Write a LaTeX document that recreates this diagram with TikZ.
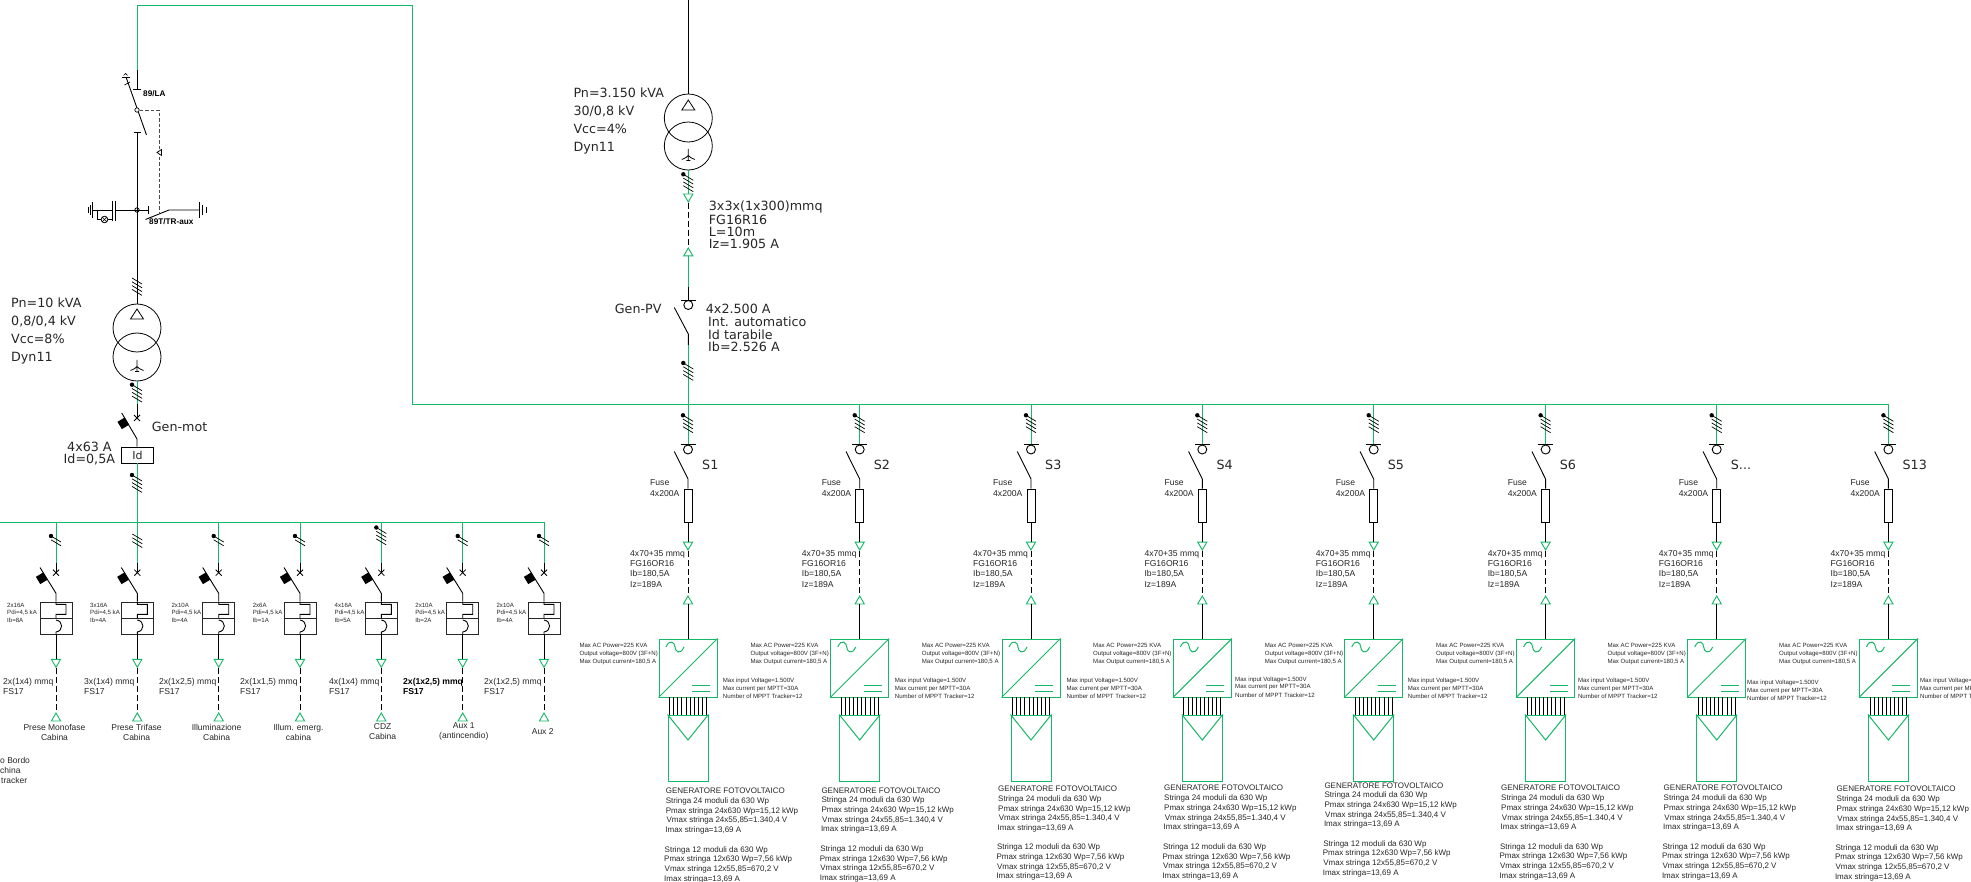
\documentclass[tikz,border=0pt]{standalone}
\usepackage{fontspec}
\usetikzlibrary{shapes.geometric}
\newfontfamily\arf{Liberation Sans}
\newfontfamily\dvf{DejaVu Sans}
\definecolor{grn}{HTML}{14B866}
\definecolor{txt}{HTML}{262626}
\newcommand\Sdots{S...}
\tikzset{
  gr/.style={draw=grn,line width=1pt},
  bk/.style={draw=black,line width=0.9pt},
  dashline/.style={draw=black,line width=0.9pt,dash pattern=on 6pt off 3pt},
  hatchline/.style={draw=black,line width=0.7pt},
  triup/.style={regular polygon,regular polygon sides=3,draw=grn,fill=white,line width=0.9pt,inner sep=0pt,minimum size=10.6pt},
  tridn/.style={triup,shape border rotate=180},
  lbase/.style={inner sep=0pt,text=txt,anchor=mid west},
  gen/.style={lbase,font=\arf\fontsize{8}{10}\selectfont},
  fz/.style={lbase,font=\arf\fontsize{8.6}{10}\selectfont},
  tiny/.style={lbase,font=\arf\fontsize{6.1}{8}\selectfont},
  cabn/.style={fz},
  cabb/.style={fz,font=\arf\bfseries\fontsize{8.6}{10}\selectfont,text=black},
  bot/.style={inner sep=0pt,text=txt,align=center,font=\arf\fontsize{8.5}{10}\selectfont},
  big/.style={lbase,font=\dvf\fontsize{12.7}{14}\selectfont},
  tag/.style={lbase,text=black,font=\arf\bfseries\fontsize{8.2}{10}\selectfont},
  trafo/.style={circle,draw=black,line width=0.8pt,minimum size=48pt,inner sep=0pt},
  switchring/.style={circle,draw=black,line width=0.9pt,minimum size=9pt,inner sep=0pt},
  fusebox/.style={rectangle,draw=black,line width=0.9pt,fill=white,minimum width=8pt,minimum height=33pt,inner sep=0pt},
  invbox/.style={rectangle,draw=grn,line width=1pt,minimum size=58pt,inner sep=0pt},
  pvbox/.style={rectangle,draw=grn,line width=1pt,minimum width=40pt,minimum height=66pt,inner sep=0pt},
  auxbox/.style={rectangle,draw=black!85,line width=0.8pt,minimum width=32pt,minimum height=32pt,inner sep=0pt},
  blk/.style={rectangle,fill=black,minimum size=8.5pt,inner sep=0pt,rotate=31},
}
% slash marks on a conductor: x, y of the first left end, number, dot flag
\newcommand\Hatch[4]{%
  \foreach \k in {1,...,#3}
    \draw[hatchline] ({#1-5},{#2+(\k-1)*3.8}) -- ({#1+5},{#2+(\k-1)*3.8+6});
  \ifnum#4=1 \fill[black] ({#1-5},#2) circle (2.2pt);\fi
}
\newcommand\Xmark[2]{%
  \draw[line width=0.8pt] ({#1-3},{#2-3}) -- ({#1+3},{#2+3}) ({#1-3},{#2+3}) -- ({#1+3},{#2-3});
}
\newcommand\TriDelta[2]{\draw[line width=0.8pt] (#1,{#2-5}) -- ({#1+6.5},{#2+5}) -- ({#1-6.5},{#2+5}) -- cycle;}
\newcommand\TriStar[2]{%
  \draw[line width=0.8pt] (#1,{#2-8}) -- (#1,{#2+3}) ({#1-6.5},{#2+2.5}) .. controls ({#1-3},{#2+1}) and ({#1-1},{#2}) .. (#1,{#2-1.5})
   .. controls ({#1+1},{#2}) and ({#1+3},{#2+1}) .. ({#1+6.5},{#2+2.5}) ({#1-2},{#2+3.5}) -- ({#1+2},{#2+3.5});
}
\begin{document}
\begin{tikzpicture}[x=1pt,y=-1pt]
\path[use as bounding box] (0,0) rectangle (1971,882);
\clip (0,0) rectangle (1971,882);

% ---------- main green run
\coordinate (la-top) at (137,70);
\coordinate (bus-end) at (1888.4,404.5);
\draw[gr,line join=miter] (la-top) -- (137,5.5) -- (412,5.5) -- (412,404.5) -- (bus-end);
\coordinate (aux-l) at (0,522.3);
\coordinate (aux-r) at (544,522.3);
\draw[gr] (aux-l) -- (aux-r);

% ---------- disconnector 89/LA
\coordinate (la-bar) at (137,89);
\coordinate (la-low) at (137,132);
\coordinate (la-piv) at (137,110);
\coordinate (la-tip1) at (126,77);
\coordinate (la-tip2) at (146.5,135);
\draw[bk] (la-top) -- (la-bar);
\draw[bk] (133,89) -- (141,89);
\draw[bk] (134,132) -- (141,132);
\draw[bk] (la-tip1) -- (la-tip2);
\draw[bk] (122,77.3) -- (130,77.3);
\draw[line width=0.7pt] (123.5,75.5) -- (125.5,73.5) -- (127.5,75.5);
\draw[line width=0.7pt] (124.5,85) -- (130,82);
\node[circle,draw=black,fill=white,line width=0.7pt,minimum size=4.4pt,inner sep=0pt] (la-ring) at (la-piv) {};
\coordinate (mech-a) at (159,110);
\coordinate (mech-b) at (159,213);
\draw[draw=black!70,line width=0.9pt,dash pattern=on 3.5pt off 2pt] (la-ring) -- (mech-a) -- (mech-b);
\draw[line width=0.7pt,fill=white] (157,152.5) -- (161.5,149.5) -- (161.5,155.5) -- cycle;
\node[tag] (t-la) at (143,94) {89/LA};
\node[tag] (t-tr) at (149,222.5) {89T/TR-aux};

% ---------- vertical down to transformer 1
\node[trafo] (t1a) at (137,328) {};
\node[trafo] (t1b) at (137,357) {};
\draw[bk] (la-low) -- (t1a.north);
\Hatch{137}{278}{4}{0}
\TriDelta{137}{314}
\TriStar{137}{368}

% ---------- earthing part
\coordinate (e-node) at (137,210);
\draw[line width=0.8pt] (e-node) circle (2.2pt);
\draw[bk] (e-node) -- (148.3,210);
\draw[bk] (148.3,206) -- (148.3,214);
\draw[bk] (e-node) -- (115.5,210);
\draw[bk] (115.5,201) -- (115.5,221) (112,201) -- (112,221);
\draw[bk] (112,210) -- (92.3,210);
\draw[bk] (92.3,202) -- (92.3,218) (90,205) -- (90,215) (88,207) -- (88,213);
\draw[bk] (97,210) -- (97,219.5) -- (101,219.5);
\draw[bk] (108,219.5) -- (112,219.5);
\draw[line width=0.8pt] (104.5,219.5) circle (3.3pt);
\draw[line width=0.7pt] (102.2,217.2) -- (106.8,221.8) (102.2,221.8) -- (106.8,217.2);
\coordinate (sw-a) at (145.5,219.5);
\coordinate (sw-b) at (169,210);
\coordinate (sw-c) at (199.3,210);
\draw[bk] (sw-a) -- (sw-b) -- (sw-c);
\draw[bk] (199.3,202) -- (199.3,218) (202.5,205) -- (202.5,215) (206,207) -- (206,213);

% ---------- Gen-mot
\coordinate (gm-b) at (137,404.3);
\coordinate (gm-c) at (137,418);
\draw[gr] (t1b.south) -- (gm-b);
\draw[bk] (gm-b) -- (gm-c);
\Xmark{137}{418}
\Hatch{137}{384.7}{4}{1}
\coordinate (gm-d) at (137,439);
\node[rectangle,draw=black,fill=white,line width=0.9pt,minimum width=32pt,minimum height=16pt,inner sep=0pt,font=\dvf\fontsize{11}{12}\selectfont,text=txt] (idbox) at (137.5,455) {Id};
\draw[bk] (idbox.north -| gm-d) -- (gm-d) -- (121.7,413);
\node[blk] (gm-blk) at (123.3,423.3) {};
\coordinate (gm-e) at (137,522.3);
\draw[gr] (idbox.south -| gm-e) -- (gm-e);
\Hatch{137}{475}{4}{1}
\node[big] (t1l1) at (11,305.7) {Pn=10 kVA};
\node[big] (t1l2) at (11,323.7) {0,8/0,4 kV};
\node[big] (t1l3) at (11,341.7) {Vcc=8\%};
\node[big] (t1l4) at (11,359.7) {Dyn11};
\node[big] (gmt) at (151.7,429.3) {Gen-mot};
\node[big] (gmi) at (67,449.5) {4x63 A};
\node[big] (gmj) at (63.5,461.5) {Id=0,5A};

% ---------- auxiliary columns
\foreach \i/\x/\hn/\hd/\hy/\tx/\ta/\ib/\cx/\cab/\fs/\st/\bx/\by/\bl in {
 1/56/2/1/536/7/2x16A/Ib=8A/3/{2x(1x4) mmq}/FS17/cabn/54.5/732/{Prese Monofase\\Cabina},
 2/137.3/3/0/534/90/3x16A/Ib=4A/84/{3x(1x4) mmq}/FS17/cabn/136.6/732/{Prese Trifase\\Cabina},
 3/218.7/2/1/536/171.4/2x10A/Ib=4A/158.8/{2x(1x2,5) mmq}/FS17/cabn/216.6/732/{Illuminazione\\Cabina},
 4/300/2/1/536/252.6/2x6A/Ib=1A/240/{2x(1x1,5) mmq}/FS17/cabn/298.5/732/{Illum. emerg.\\cabina},
 5/381.3/4/1/527.5/334.5/4x16A/Ib=5A/329/{4x(1x4) mmq}/FS17/cabn/382.7/732/{CDZ\\Cabina},
 6/462.7/2/1/536/415.2/2x10A/Ib=2A/403/{2x(1x2,5) mmq}/FS17/cabb/463.8/731/{Aux 1\\(antincendio)},
 7/544/2/1/536/496.4/2x10A/Ib=4A/484/{2x(1x2,5) mmq}/FS17/cabn/542.7/732/{Aux 2}}
{
  \coordinate (a\i-bus) at (\x,522.3);
  \coordinate (a\i-g) at (\x,562.7);
  \coordinate (a\i-k) at (\x,572.7);
  \coordinate (a\i-p) at (\x,593.3);
  \node[auxbox] (a\i-box) at (\x,618) {};
  \draw[gr] (a\i-bus) -- (a\i-g);
  \draw[bk] (a\i-g) -- (a\i-k);
  \Xmark{\x}{572.7}
  \Hatch{\x}{\hy}{\hn}{\hd}
  \draw[bk] (a\i-box.north -| a\i-p) -- (a\i-p) -- ({\x-16},567.5);
  \node[blk] (a\i-blk) at ({\x-14.3},578.3) {};
  \draw[draw=black!85,line width=0.8pt] (a\i-box.west) -- (a\i-box.east);
  \draw[line width=0.9pt] (\x,602) -- (\x,604.3) -- ({\x+10},604.3) -- ({\x+10},614.3) -- (\x,614.3) -- (\x,618)
     (\x,620) .. controls ({\x+7.5},621) and ({\x+7.5},631) .. (\x,632) -- (\x,634);
  \node[tridn] (a\i-td) at (\x,662) {};
  \node[triup] (a\i-tu) at (\x,718.3) {};
  \draw[bk] (a\i-box.south) -- (a\i-td.north);
  \draw[dashline] (a\i-td.south) -- (a\i-tu.north);
  \node[tiny] (a\i-t1) at (\tx,605) {\ta};
  \node[tiny] (a\i-t2) at (\tx,612.7) {Pdi=4,5 kA};
  \node[tiny] (a\i-t3) at (\tx,620) {\ib};
  \node[\st] (a\i-c1) at (\cx,682.3) {\cab};
  \node[\st] (a\i-c2) at (\cx,692) {\fs};
  \node[bot] (a\i-b) at (\bx,\by) {\bl};
}
\node[gen,font=\arf\fontsize{8.5}{10}\selectfont] (cut1) at (0,761) {o Bordo};
\node[gen,font=\arf\fontsize{8.5}{10}\selectfont] (cut2) at (0,771) {china};
\node[gen,font=\arf\fontsize{8.5}{10}\selectfont] (cut3) at (1,781) {tracker};

% ---------- main transformer and Gen-PV
\coordinate (mv-top) at (688.3,0);
\node[trafo] (t2a) at (688.3,118) {};
\node[trafo] (t2b) at (688.3,146) {};
\draw[bk] (mv-top) -- (t2a.north);
\TriDelta{688.3}{105}
\TriStar{688.3}{157}
\node[tridn] (t2d) at (688.3,196.7) {};
\node[triup] (t2u) at (688.3,253.3) {};
\draw[gr] (t2b.south) -- (t2d.north);
\Hatch{688.3}{174.3}{4}{1}
\draw[dashline] (t2d.south) -- (t2u.north);
\coordinate (gp-g) at (688.3,287);
\coordinate (gp-b) at (688.3,300);
\coordinate (gp-s) at (688.3,334);
\coordinate (gp-l) at (688.3,345);
\draw[gr] (t2u.south) -- (gp-g);
\draw[bk] (gp-g) -- (gp-b);
\draw[bk] (681,300) -- (696,300);
\node[switchring] (gp-r) at (688.3,305) {};
\draw[bk] (674.3,307.5) -- (gp-s) -- (gp-l);
\coordinate (gp-bus) at (688.3,404.5);
\draw[gr] (gp-l) -- (gp-bus);
\Hatch{688.3}{363}{4}{1}
\node[big] (t2l1) at (573.3,95.7) {Pn=3.150 kVA};
\node[big] (t2l2) at (573.3,113.7) {30/0,8 kV};
\node[big] (t2l3) at (573.3,131.7) {Vcc=4\%};
\node[big] (t2l4) at (573.3,149.7) {Dyn11};
\node[big] (c1) at (708.7,208.7) {3x3x(1x300)mmq};
\node[big] (c2) at (708.7,222.7) {FG16R16};
\node[big] (c3) at (708.7,234.7) {L=10m};
\node[big] (c4) at (708.7,246.7) {Iz=1.905 A};
\node[big] (gpn) at (614.7,311.7) {Gen-PV};
\node[big] (g1) at (705.7,311.7) {4x2.500 A};
\node[big] (g2) at (708,324.7) {Int. automatico};
\node[big] (g3) at (708,337.7) {Id tarabile};
\node[big] (g4) at (708,349.7) {Ib=2.526 A};

% ---------- inverter columns
\foreach \c/\x/\lab/\lx/\rx/\ra/\rb/\rc/\gx/\ga/\gb/\gc/\gd/\ge/\gf/\gg/\gh/\gi in {
 1/688/S1/579.3/722.7/680.7/688.7/696.7/665.7/791.3/801.3/811.3/820.3/830.3/850.3/859.7/869.3/879.3,
 2/859.7/S2/750.3/894.7/680.7/688.7/696.7/821.3/791.3/800.3/810.3/820.3/829.3/849.3/859.3/868.3/878.3,
 3/1031/S3/921.6/1066.3/680.7/688.7/696.7/998/789.3/799.3/809.3/818.3/828.3/847.3/857.3/867.3/876.3,
 4/1202.3/S4/1093/1235/679.7/686.7/695/1164/788.3/798.3/808.3/818.3/827.3/847.3/857.3/866.3/876.3,
 5/1373.7/S5/1264.7/1407.7/680.7/688.7/696.7/1324.3/786/795.3/805.3/815.3/824.3/844.3/853.3/863.3/873.3,
 6/1545.6/S6/1436/1577.8/680.7/688.7/696.7/1501/788.3/798.3/808.3/818.3/827.3/847.3/856.3/866.3/876.3,
 7/1716.7/\Sdots/1607.3/1747/682.7/690.7/698.7/1663.5/788.3/798.3/808.3/818.3/827.3/847.3/856.3/866.3/876.3,
 8/1888.4/S13/1779/1919.9/680.7/688.7/696.7/1836.5/789.3/799.3/809.3/819.3/828.3/848.3/857.3/867.3/877.3}
{
  \coordinate (s\c-bus) at (\x,404.5);
  \coordinate (s\c-bar) at (\x,444);
  \coordinate (s\c-pv) at (\x,479);
  \draw[gr] (s\c-bus) -- (s\c-bar);
  \Hatch{\x}{415.3}{4}{1}
  \draw[bk] ({\x-7.3},444) -- ({\x+7.7},444);
  \node[switchring] (s\c-r) at (\x,449.5) {};
  \node[fusebox] (s\c-f) at (\x,505.5) {};
  \draw[bk] ({\x-13.7},451.5) -- (s\c-pv) -- (s\c-f.north);
  \node[tridn] (s\c-td) at (\x,544.7) {};
  \node[triup] (s\c-tu) at (\x,601.3) {};
  \draw[bk] (s\c-f.south) -- (s\c-td.north);
  \draw[dashline] (s\c-td.south) -- (s\c-tu.north);
  \node[invbox] (s\c-inv) at (\x,668) {};
  \draw[bk] (s\c-tu.south) -- (s\c-inv.north);
  \draw[gr,line width=1pt] (s\c-inv.south west) -- (s\c-inv.north east);
  \draw[gr] ({\x-22},647) .. controls ({\x-18},638) and ({\x-13},643) .. ({\x-13},647)
     .. controls ({\x-13},651) and ({\x-8},656) .. ({\x-4},647);
  \draw[gr] ({\x+4},685) -- ({\x+22},685) ({\x+4},691) -- ({\x+22},691);
  \node[pvbox] (s\c-pvb) at (\x,748) {};
  \foreach \d in {-18.5,-14.4,-10.3,-6.2,-2.1,2,6.1,10.2,14.3,18.4}
    \draw[line width=0.8pt] ({\x+\d},697) -- ({\x+\d},715);
  \draw[gr] (s\c-pvb.north west) -- (\x,740) -- (s\c-pvb.north east);
  \node[big] (s\c-n) at ({\x+14},467) {\lab};
  \node[fz] (s\c-fu1) at ({\x-38},483) {Fuse};
  \node[fz] (s\c-fu2) at ({\x-38},494) {4x200A};
  \node[fz] (s\c-ca1) at ({\x-58},554) {4x70+35 mmq};
  \node[fz] (s\c-ca2) at ({\x-58},564) {FG16OR16};
  \node[fz] (s\c-ca3) at ({\x-58},574.5) {Ib=180,5A};
  \node[fz] (s\c-ca4) at ({\x-58},585) {Iz=189A};
  \node[tiny] (s\c-l1) at (\lx,645.7) {Max AC Power=225 KVA};
  \node[tiny] (s\c-l2) at (\lx,653.7) {Output voltage=800V (3F+N)};
  \node[tiny] (s\c-l3) at (\lx,661.7) {Max Output current=180,5 A};
  \node[tiny] (s\c-r1) at (\rx,\ra) {Max input Voltage=1.500V};
  \node[tiny] (s\c-r2) at (\rx,\rb) {Max current per MPTT=30A};
  \node[tiny] (s\c-r3) at (\rx,\rc) {Number of MPPT Tracker=12};
  \node[gen] (s\c-g1) at (\gx,\ga) {GENERATORE FOTOVOLTAICO};
  \node[gen] (s\c-g2) at (\gx,\gb) {Stringa 24 moduli da 630 Wp};
  \node[gen] (s\c-g3) at (\gx,\gc) {Pmax stringa 24x630 Wp=15,12 kWp};
  \node[gen] (s\c-g4) at ({\gx+0.7},\gd) {Vmax stringa 24x55,85=1.340,4 V};
  \node[gen] (s\c-g5) at ({\gx-0.5},\ge) {Imax stringa=13,69 A};
  \node[gen] (s\c-g6) at ({\gx-1.2},\gf) {Stringa 12 moduli da 630 Wp};
  \node[gen] (s\c-g7) at ({\gx-1.7},\gg) {Pmax stringa 12x630 Wp=7,56 kWp};
  \node[gen] (s\c-g8) at ({\gx-1.2},\gh) {Vmax stringa 12x55,85=670,2 V};
  \node[gen] (s\c-g9) at ({\gx-1.7},\gi) {Imax stringa=13,69 A};
}
\end{tikzpicture}
\end{document}
